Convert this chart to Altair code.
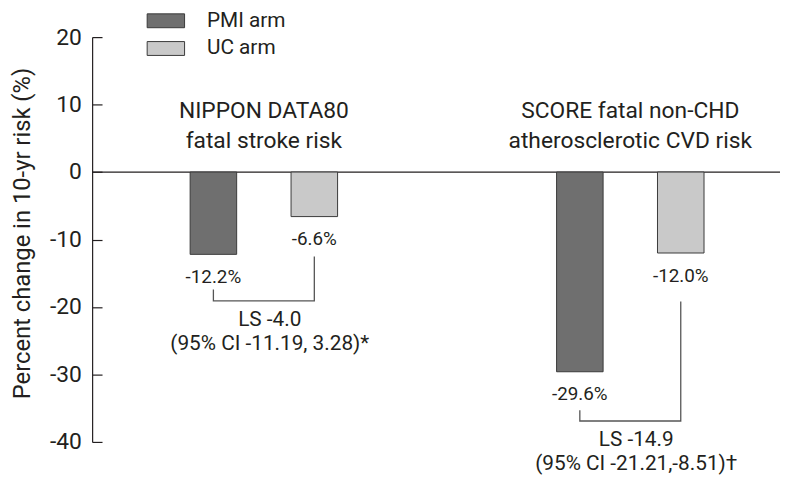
import altair as alt
import pandas as pd

# ---- data ----
groups = ["NIPPON DATA80", "SCORE"]
group_titles = ["NIPPON DATA80\nfatal stroke risk", "SCORE fatal non-CHD\natherosclerotic CVD risk"]
arms = ["PMI arm", "UC arm"]
pmi_values = [-12.2, -29.6]
uc_values = [-6.6, -12.0]
ls_texts = ["LS -4.0\n(95% CI -11.19, 3.28)*", "LS -14.9\n(95% CI -21.21,-8.51)\u2020"]
bracket_pmi_top = [-17.4, -35.3]
bracket_uc_top = [-12.5, -19.2]
bracket_bottom = [-19.1, -36.9]
y_ticks = [-40, -30, -20, -10, 0, 10, 20]

FONT = "Roboto, sans-serif"
INK = "#231f20"
PMI_COLOR = "#6f6f6f"
UC_COLOR = "#c9c9c9"

bars = pd.DataFrame({
    "group": groups * 2,
    "arm": [arms[0]] * 2 + [arms[1]] * 2,
    "value": pmi_values + uc_values,
})
bars["label"] = [f"{v:.1f}%" for v in bars["value"]]

titles = pd.DataFrame({"group": groups, "title": group_titles})
ls = pd.DataFrame({"group": groups, "text": ls_texts, "y": bracket_bottom})

br_rows = []
for g, pt, ut, b in zip(groups, bracket_pmi_top, bracket_uc_top, bracket_bottom):
    br_rows += [
        {"group": g, "arm": arms[0], "y": pt, "o": 0},
        {"group": g, "arm": arms[0], "y": b, "o": 1},
        {"group": g, "arm": arms[1], "y": b, "o": 2},
        {"group": g, "arm": arms[1], "y": ut, "o": 3},
    ]
brackets = pd.DataFrame(br_rows)

x_scale = alt.Scale(domain=groups, paddingInner=0.5976, paddingOuter=0.2374, align=0.5633)
xo_scale = alt.Scale(domain=arms, paddingInner=0.539, paddingOuter=0)
y_scale = alt.Scale(domain=[-40, 20], nice=False, zero=False)

y_axis = alt.Axis(
    orient="right", offset=-695, values=y_ticks, tickSize=10, tickColor=INK,
    domainColor=INK, domainWidth=1.2, tickWidth=1.2, grid=False,
    labelPadding=-21, labelAlign="right", labelFontSize=23, labelColor=INK,
    labelExpr="toString(datum.value)",
    title="Percent change in 10-yr risk  (%)", titleAngle=270, titleX=-70, titleY=198,
    titleAlign="center", titleBaseline="middle", titleFontSize=24,
    titleFontWeight="normal", titleColor=INK,
)

X = alt.X("group:N", scale=x_scale, axis=None)

bar_layer = alt.Chart(bars).mark_bar(stroke="#3a3a3a", strokeWidth=1).encode(
    x=X,
    xOffset=alt.XOffset("arm:N", scale=xo_scale),
    y=alt.Y("value:Q", scale=y_scale, axis=y_axis, stack=None),
    color=alt.Color(
        "arm:N",
        scale=alt.Scale(domain=arms, range=[PMI_COLOR, UC_COLOR]),
        legend=alt.Legend(
            title=None, orient="none", legendX=64, legendY=-27,
            symbolType="M-2.7,-1H2.7V1H-2.7Z", symbolSize=196,
            symbolStrokeColor="#3a3a3a", symbolStrokeWidth=1, symbolOpacity=1,
            labelFontSize=21, labelOffset=31, rowPadding=6, labelColor=INK,
        ),
    ),
)

zero_layer = alt.Chart(pd.DataFrame({"v": [0]})).mark_rule(color=INK, strokeWidth=1.2).encode(
    y=alt.Y("v:Q", scale=y_scale)
)

value_labels = alt.Chart(bars).mark_text(
    fontSize=19, baseline="middle", dy=23, color=INK
).encode(
    x=X,
    xOffset=alt.XOffset("arm:N", scale=xo_scale),
    y=alt.Y("value:Q", scale=y_scale),
    text="label:N",
)

bracket_layer = alt.Chart(brackets).mark_line(color="#555555", strokeWidth=1.3).encode(
    x=X,
    xOffset=alt.XOffset("arm:N", scale=xo_scale),
    y=alt.Y("y:Q", scale=y_scale),
    order="o:Q",
    detail="group:N",
)

ls_layer = alt.Chart(ls).mark_text(
    fontSize=21, baseline="top", dy=8, dx=6, lineBreak="\n", lineHeight=25, color=INK
).encode(
    x=X,
    y=alt.Y("y:Q", scale=y_scale),
    text="text:N",
)

title_layer = alt.Chart(titles).mark_text(
    fontSize=23, baseline="bottom", dy=-50, lineBreak="\n", lineHeight=31, color=INK
).encode(
    x=X,
    y=alt.datum(0),
    text="title:N",
)

chart = alt.layer(
    zero_layer, bar_layer, value_labels, bracket_layer, ls_layer, title_layer
).properties(
    width=695, height=409,
    padding={"left": 85, "top": 27, "right": 0, "bottom": 31},
    autosize=alt.AutoSizeParams(type="none"),
).configure(font=FONT).configure_view(stroke=None)

chart.save("out.html", embed_options={"renderer": "svg", "actions": False})
